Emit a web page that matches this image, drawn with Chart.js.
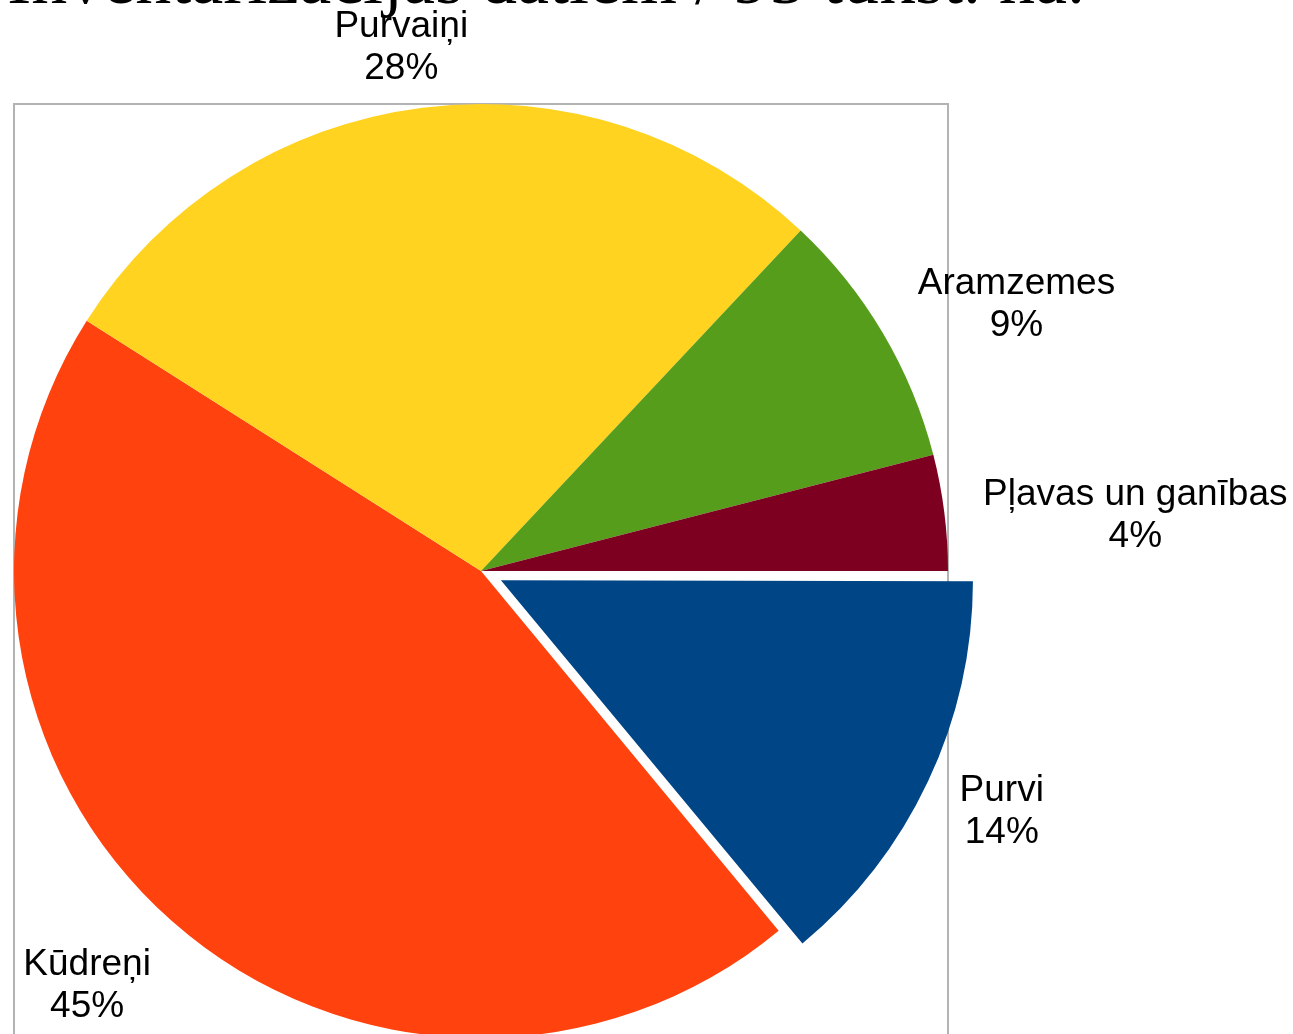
<!DOCTYPE html>
<html>
<head>
<meta charset="utf-8">
<script src="https://cdn.jsdelivr.net/npm/chart.js@4.4.1/dist/chart.umd.min.js"></script>
<style>
  html, body { margin: 0; padding: 0; background: #fff; overflow: hidden; }
</style>
</head>
<body>
<canvas id="chart"></canvas>
<script>
// data
const labels = ['Purvi', 'Kūdreņi', 'Purvaiņi', 'Aramzemes', 'Pļavas un ganības'];
const shares = [14, 45, 28, 9, 4];
const colors = ['#004586', '#ff420e', '#ffd320', '#579d1c', '#7e0021'];
const titleText = 'Inventarizācijas datiem / 95 tūkst. ha.';

const EXPLODED = 0;      // "Purvi" is pulled out of the pie
const EXPLODE_OFFSET = 88; // chart.js moves the arc by offset / 4

const ctx = document.getElementById('chart').getContext('2d');
ctx.canvas.width = 1293;
ctx.canvas.height = 1034;

// grey frame round the pie (square bounding box)
const framePlugin = {
  id: 'frame',
  beforeDatasetsDraw(chart) {
    const arc = chart.getDatasetMeta(0).data[0];
    if (!arc) return;
    const { x, y, outerRadius } = arc.getProps(['x', 'y', 'outerRadius'], true);
    const c = chart.ctx;
    c.save();
    c.strokeStyle = '#b3b3b3';
    c.lineWidth = 2;
    c.strokeRect(x - outerRadius, y - outerRadius, outerRadius * 2, outerRadius * 2);
    c.restore();
  }
};

// "name / percent" labels outside each slice
const labelPlugin = {
  id: 'sliceLabels',
  afterDatasetsDraw(chart) {
    const meta = chart.getDatasetMeta(0);
    const total = shares.reduce((a, b) => a + b, 0);
    const c = chart.ctx;
    const lineH = 42;
    const gap = 30;
    c.save();
    c.font = '37px "Liberation Sans", Arial, sans-serif';
    c.fillStyle = '#000';
    c.textAlign = 'center';
    c.textBaseline = 'middle';
    meta.data.forEach((arc, i) => {
      const p = arc.getProps(['x', 'y', 'startAngle', 'endAngle', 'outerRadius'], true);
      const mid = (p.startAngle + p.endAngle) / 2;
      const cos = Math.cos(mid), sin = Math.sin(mid);
      const shift = i === EXPLODED ? EXPLODE_OFFSET / 4 : 0;
      const ox = p.x + cos * shift, oy = p.y + sin * shift;
      const lines = [labels[i], Math.round(shares[i] / total * 100) + '%'];
      const w = Math.max(...lines.map(t => c.measureText(t).width));
      const h = lines.length * lineH;
      const d = p.outerRadius + gap;
      const m = Math.max(Math.abs(cos), Math.abs(sin));
      let cx = ox + cos * d + cos * w / 2 / m + Math.sign(cos) * 9;
      let cy = oy + sin * d + sin * h / 2 / m;
      if (sin < 0) cy += 12; // labels above the centre sit a bit lower
      lines.forEach((t, k) => {
        c.fillText(t, cx, cy - h / 2 + lineH / 2 + k * lineH);
      });
    });
    c.restore();
  }
};

// title, mostly cut off by the top edge in the original
const titlePlugin = {
  id: 'cutTitle',
  afterDraw(chart) {
    const c = chart.ctx;
    c.save();
    c.font = '72px "Liberation Serif", "DejaVu Serif", serif';
    c.fillStyle = '#000';
    c.textAlign = 'right';
    c.textBaseline = 'alphabetic';
    c.fillText(titleText, 1085, 3);
    c.restore();
  }
};

const chart = new Chart(ctx, {
  type: 'pie',
  data: {
    labels: labels,
    datasets: [{
      data: shares,
      backgroundColor: colors,
      borderWidth: 0,
      offset: c => c.dataIndex === EXPLODED ? EXPLODE_OFFSET : 0,
      clip: false
    }]
  },
  options: {
    responsive: false,
    animation: false,
    rotation: 90, // first slice starts at 3 o'clock
    radius: 467,
    layout: {
      padding: { left: 14, right: 345, top: 108, bottom: 0 }
    },
    plugins: {
      legend: { display: false },
      tooltip: { enabled: false }
    }
  },
  plugins: [framePlugin, labelPlugin, titlePlugin]
});
</script>
</body>
</html>
